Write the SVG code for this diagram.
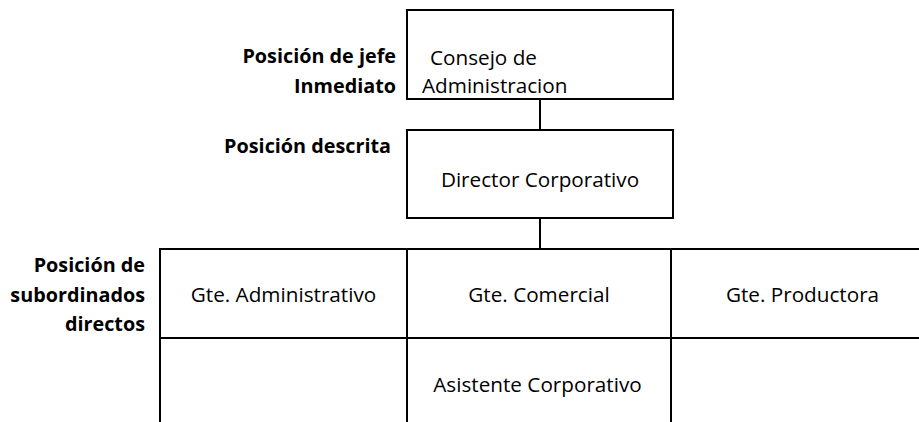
<svg xmlns="http://www.w3.org/2000/svg" width="919" height="422" viewBox="0 0 919 422">
<style>
.box{fill:#fff;stroke:#000;stroke-width:2}
.conn{stroke:#000;stroke-width:2;fill:none}
.t{font-family:"Open Sans","Noto Sans",sans-serif;font-size:20.7px;fill:#000}
.c{text-anchor:middle}
.lbl{font-family:"Open Sans","Noto Sans",sans-serif;font-size:19.8px;font-weight:bold;fill:#000;text-anchor:end}
</style>
<rect width="919" height="422" fill="#fff"/>
<g id="labels">
<text class="lbl" x="396" y="63">Posición de jefe</text>
<text class="lbl" x="396" y="93">Inmediato</text>
<text class="lbl" x="391" y="153">Posición descrita</text>
<text class="lbl" x="145" y="272">Posición de</text>
<text class="lbl" x="145" y="302">subordinados</text>
<text class="lbl" x="145" y="331">directos</text>
</g>
<g id="connectors">
<line class="conn" x1="540" y1="99" x2="540" y2="130"/>
<line class="conn" x1="540" y1="218" x2="540" y2="249"/>
</g>
<g id="consejo">
<rect class="box" x="407" y="10" width="266" height="89"/>
<text class="t" x="430" y="65">Consejo de</text>
<text class="t" x="422" y="93">Administracion</text>
</g>
<g id="director">
<rect class="box" x="407" y="130" width="266" height="88"/>
<text class="t c" x="540" y="187">Director Corporativo</text>
</g>
<g id="gte-administrativo">
<rect class="box" x="160" y="249" width="247" height="89"/>
<text class="t c" x="283.5" y="302">Gte. Administrativo</text>
</g>
<g id="gte-comercial">
<rect class="box" x="407" y="249" width="264" height="89"/>
<text class="t c" x="539" y="302">Gte. Comercial</text>
</g>
<g id="gte-productora">
<rect class="box" x="671" y="249" width="264" height="89"/>
<text class="t c" x="802.5" y="302">Gte. Productora</text>
</g>
<g id="cell-empty-left">
<rect class="box" x="160" y="338" width="247" height="100"/>
</g>
<g id="asistente">
<rect class="box" x="407" y="338" width="264" height="100"/>
<text class="t c" x="537.5" y="392">Asistente Corporativo</text>
</g>
<g id="cell-empty-right">
<rect class="box" x="671" y="338" width="264" height="100"/>
</g>
</svg>
